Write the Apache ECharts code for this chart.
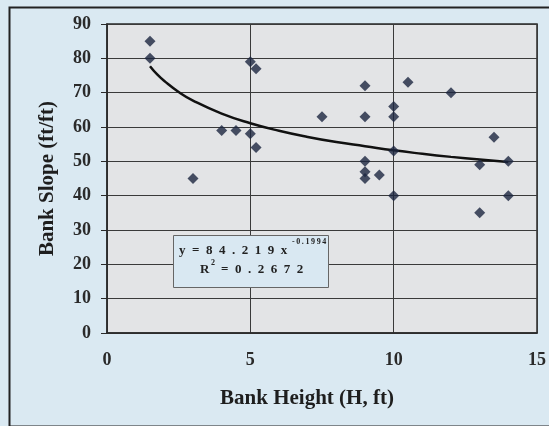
<!DOCTYPE html>
<html>
<head>
<meta charset="utf-8">
<script src="https://cdn.jsdelivr.net/npm/echarts@6/dist/echarts.min.js"></script>
<style>
html,body{margin:0;padding:0;background:#dae9f2;}
#c{width:549px;height:426px;}
</style>
</head>
<body>
<div id="c"></div>
<script>
// Observed data: bank height (ft) and bank slope (ft/ft)
const bankHeight = [1.5, 1.5, 3, 4, 4.5, 5, 5.2, 5, 5.2, 7.5, 9, 9, 9, 9, 9, 9.5, 10, 10, 10, 10, 10.5, 12, 13, 13, 13.5, 14, 14];
const bankSlope  = [85, 80, 45, 59, 59, 79, 77, 58, 54, 63, 72, 63, 50, 47, 45, 46, 66, 63, 53, 40, 73, 70, 49, 35, 57, 50, 40];
// Trendline points (y = 84.219 x^-0.1994)
const trendX = [1.5, 1.75, 2, 2.5, 3, 4, 5, 6, 7, 8, 9, 10, 11, 12, 13, 14];
const trendY = [77.7, 75.3, 73.4, 70.2, 67.7, 63.9, 61.1, 58.9, 57.1, 55.6, 54.4, 53.2, 52.2, 51.3, 50.5, 49.8];
const xTicks = [0, 5, 10, 15];
const yTicks = [0, 10, 20, 30, 40, 50, 60, 70, 80, 90];

const chart = echarts.init(document.getElementById('c'), null, {renderer: 'canvas'});
const serif = '"Liberation Serif", "DejaVu Serif", serif';
const scatterData = bankHeight.map((h, i) => [h, bankSlope[i]]);
const trendData = trendX.map((x, i) => [x, trendY[i]]);
const sp = '\u2002';

chart.setOption({
  backgroundColor: '#dae9f2',
  animation: false,
  grid: {left: 107, top: 24, right: 9, bottom: 93, show: true, backgroundColor: '#e3e4e6', borderColor: '#2a2a2a', borderWidth: 1.5},
  xAxis: {
    type: 'value', min: xTicks[0], max: xTicks[xTicks.length - 1], interval: 5,
    name: 'Bank Height (H, ft)', nameLocation: 'middle', nameGap: 55,
    nameTextStyle: {fontFamily: serif, fontWeight: 'bold', fontSize: 21, color: '#1e1e1e', padding: [0, 30, 0, 0]},
    axisLine: {show: true, lineStyle: {color: '#2a2a2a', width: 1.5}},
    axisTick: {show: false},
    axisLabel: {fontFamily: serif, fontWeight: 'bold', fontSize: 18, color: '#2a2a2a', margin: 18},
    splitLine: {show: true, lineStyle: {color: '#3a3a3a', width: 1}}
  },
  yAxis: {
    type: 'value', min: yTicks[0], max: yTicks[yTicks.length - 1], interval: 10,
    name: 'Bank Slope (ft/ft)', nameLocation: 'middle', nameGap: 49,
    nameTextStyle: {fontFamily: serif, fontWeight: 'bold', fontSize: 21, color: '#1e1e1e'},
    axisLine: {show: true, lineStyle: {color: '#2a2a2a', width: 1.5}},
    axisTick: {show: true, length: 6, lineStyle: {color: '#2a2a2a', width: 1}},
    axisLabel: {fontFamily: serif, fontWeight: 'bold', fontSize: 18, color: '#2a2a2a', margin: 16},
    splitLine: {show: true, lineStyle: {color: '#3a3a3a', width: 1}}
  },
  series: [
    {
      type: 'line', data: trendData, smooth: true, symbol: 'none',
      lineStyle: {color: '#111', width: 2.5}, z: 2
    },
    {
      type: 'scatter', data: scatterData, symbol: 'diamond', symbolSize: 11,
      itemStyle: {color: '#1b2640'}, z: 3
    }
  ],
  graphic: [
    {type: 'rect', left: 7, top: 5, shape: {width: 548, height: 419}, style: {fill: 'none', stroke: '#222', lineWidth: 2}, z: 100},
    {type: 'rect', left: 173, top: 235, shape: {width: 155, height: 52}, style: {fill: '#d9e8f2', stroke: '#666', lineWidth: 1}, z: 100},
    {type: 'text', left: 179, top: 244, style: {text: ['y', '=', '8', '4', '.', '2', '1', '9', 'x'].join(sp), font: 'bold 13px ' + serif, fill: '#222'}, z: 101},
    {type: 'text', left: 292, top: 238, style: {text: ['-', '0', '.', '1', '9', '9', '4'].join('\u2009'), font: 'bold 8px ' + serif, fill: '#222'}, z: 101},
    {type: 'text', left: 200, top: 263, style: {text: 'R', font: 'bold 13px ' + serif, fill: '#222'}, z: 101},
    {type: 'text', left: 211, top: 259, style: {text: '2', font: 'bold 8px ' + serif, fill: '#222'}, z: 101},
    {type: 'text', left: 221, top: 263, style: {text: ['=', '0', '.', '2', '6', '7', '2'].join(sp), font: 'bold 13px ' + serif, fill: '#222'}, z: 101}
  ]
});
</script>
</body>
</html>
